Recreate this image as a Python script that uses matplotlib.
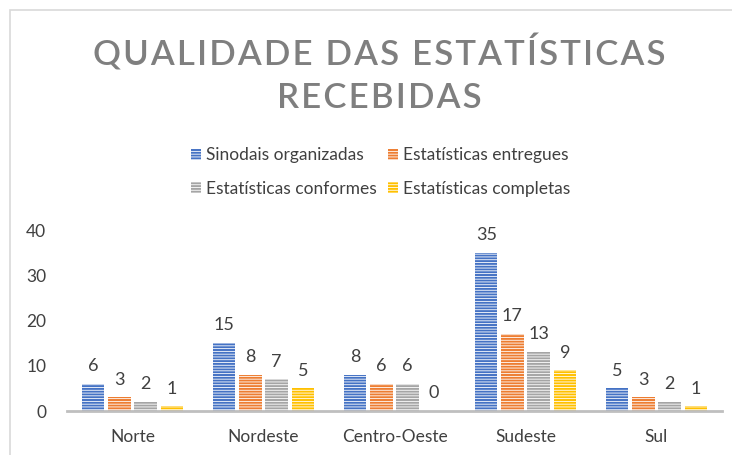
import matplotlib.pyplot as plt
import numpy as np
from matplotlib.patches import Rectangle

# data
regioes = ["Norte", "Nordeste", "Centro-Oeste", "Sudeste", "Sul"]
sinodais = [6, 15, 8, 35, 5]
entregues = [3, 8, 6, 17, 3]
conformes = [2, 7, 6, 13, 2]
completas = [1, 5, 0, 9, 1]

series = ["Sinodais organizadas", "Estatísticas entregues",
          "Estatísticas conformes", "Estatísticas completas"]
valores = [sinodais, entregues, conformes, completas]
cores = ["#4472C4", "#ED7D31", "#A5A5A5", "#FFC000"]

plt.rcParams["font.family"] = ["Lato", "DejaVu Sans"]
plt.rcParams["hatch.linewidth"] = 0.6

fig = plt.figure(figsize=(7.32, 4.55), dpi=100)

# outer frame of the chart area
fig.patches.append(Rectangle((10 / 732, -0.1), 1.2, (445 / 455) + 0.1,
                             transform=fig.transFigure, fill=False,
                             edgecolor="#d9d9d9", linewidth=1.2))

ax = fig.add_axes([67 / 732, 44 / 455, 655 / 732, 181 / 455])

x = np.arange(len(regioes))
largura = 0.17
passo = 0.2
handles = []
for i, (nome, vals, cor) in enumerate(zip(series, valores, cores)):
    pos = x + (i - 1.5) * passo
    barras = ax.bar(pos, vals, largura, color=cor, edgecolor="white",
                    linewidth=0, hatch="------", label=nome)
    handles.append(barras)
    for b, v in zip(barras, vals):
        ax.annotate(str(v), (b.get_x() + b.get_width() / 2, v),
                    xytext=(0, 7), textcoords="offset points",
                    ha="center", va="bottom", fontsize=13, color="#404040",
                    annotation_clip=False)

ax.set_xlim(-0.5, 4.5)
ax.set_ylim(0, 40)
ax.set_yticks([0, 10, 20, 30, 40])
ax.set_xticks(x)
ax.set_xticklabels(regioes)
ax.tick_params(axis="both", length=0, labelsize=12.5, colors="#404040")
ax.tick_params(axis="x", pad=13)
ax.tick_params(axis="y", pad=15)
for s in ["top", "right", "left"]:
    ax.spines[s].set_visible(False)
ax.spines["bottom"].set_color("#bfbfbf")
ax.spines["bottom"].set_linewidth(2)

# spaced-out title, like the original
esp = "\u200a"
linha1 = esp.join("QUALIDADE DAS ESTATÍSTICAS")
linha2 = esp.join("RECEBIDAS")
titulo = dict(ha="center", va="center", fontsize=25, color="#7f7f7f",
              fontweight="semibold", family=["Lato", "DejaVu Sans"])
fig.text(0.518, 1 - 53 / 455, linha1, **titulo)
fig.text(0.518, 1 - 98 / 455, linha2, **titulo)

# legend filled row by row (matplotlib fills columns first)
ordem = [0, 2, 1, 3]
fig.legend([handles[k] for k in ordem], [series[k] for k in ordem],
           loc="center", bbox_to_anchor=(0.52, 0.622), ncol=2, frameon=False,
           fontsize=12.5, handlelength=0.6, handleheight=0.6, handletextpad=0.3,
           columnspacing=0.6, labelspacing=1.0, labelcolor="#404040")

fig.savefig("out.png", dpi=100)
